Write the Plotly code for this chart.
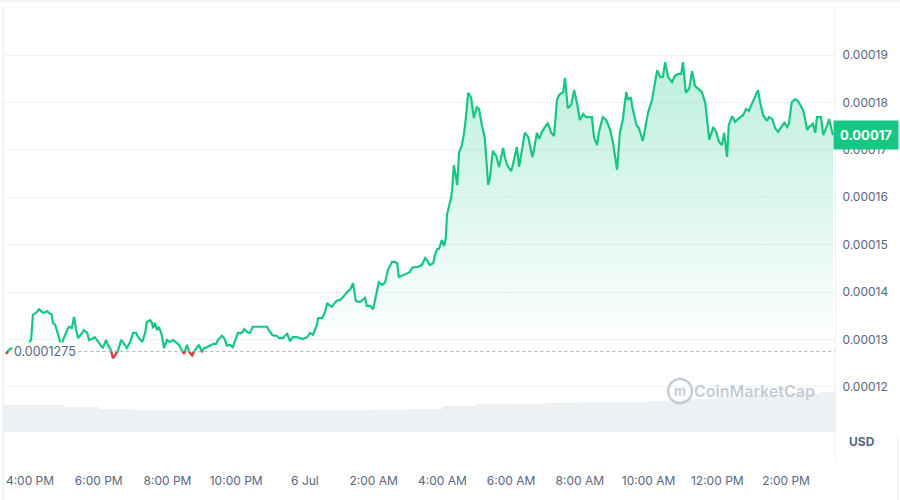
import plotly.graph_objects as go
import pandas as pd
import numpy as np

# ---------------- data ----------------
start = pd.Timestamp("2024-07-05 15:00")

# minutes after 5 Jul 15:00
minute_offsets = [
    18, 25, 34, 43, 51, 57, 62, 65, 72, 76, 81, 84, 90, 93, 98, 100, 104, 107, 111, 114,
    119, 125, 128, 133, 137, 140, 144, 151, 154, 160, 163, 168, 173, 177, 182, 187, 193, 196, 201, 205,
    210, 214, 219, 222, 229, 235, 240, 245, 249, 256, 261, 264, 270, 273, 275, 278, 282, 285, 290, 294,
    299, 304, 310, 317, 320, 325, 329, 334, 338, 343, 346, 352, 355, 360, 364, 369, 376, 380, 385, 388,
    395, 399, 404, 409, 414, 420, 423, 430, 434, 439, 444, 449, 456, 465, 474, 477, 483, 486, 491, 495,
    502, 505, 509, 514, 519, 526, 531, 537, 544, 549, 554, 558, 561, 563, 570, 575, 579, 582, 587, 593,
    598, 601, 607, 615, 619, 624, 629, 636, 641, 645, 648, 654, 659, 666, 669, 675, 680, 685, 692, 697,
    701, 704, 711, 718, 723, 727, 732, 737, 744, 750, 753, 758, 764, 767, 771, 774, 779, 783, 786, 788,
    795, 797, 800, 806, 809, 814, 818, 821, 825, 830, 835, 840, 844, 849, 854, 860, 863, 868, 874, 879,
    886, 889, 893, 900, 903, 910, 914, 919, 924, 930, 937, 940, 945, 949, 954, 959, 964, 970, 975, 980,
    984, 991, 994, 999, 1005, 1010, 1015, 1020, 1026, 1031, 1036, 1041, 1045, 1050, 1053, 1060, 1066, 1073, 1078, 1085,
    1090, 1095, 1101, 1104, 1109, 1112, 1119, 1123, 1130, 1133, 1139, 1146, 1151, 1155, 1160, 1165, 1169, 1174, 1181, 1186,
    1191, 1197, 1200, 1205, 1211, 1216, 1221, 1226, 1233, 1239, 1242, 1246, 1253, 1258, 1263, 1268, 1272, 1277, 1280, 1286,
    1291, 1296, 1305, 1310, 1315, 1321, 1326, 1331, 1335, 1340, 1347, 1350, 1356, 1361, 1366, 1371, 1377, 1382, 1385, 1390,
    1396, 1401, 1408, 1411, 1417, 1420, 1427, 1431, 1434, 1441, 1445, 1452, 1455, 1462,
]

# price in units of 1e-5 USD
price_1e5 = [
    12.70, 12.80, 12.84, 12.82, 12.86, 12.90, 13.00, 13.52, 13.58, 13.64, 13.58, 13.56, 13.60, 13.56, 13.52, 13.35, 13.31, 13.20, 13.03, 12.84,
    13.03, 13.20, 13.27, 13.24, 13.48, 13.24, 13.03, 13.14, 13.20, 13.14, 12.99, 13.01, 13.05, 12.99, 12.89, 12.82, 12.99, 12.89, 12.78, 12.61,
    12.70, 12.78, 12.99, 12.95, 12.82, 12.95, 13.14, 13.14, 13.05, 12.95, 13.14, 13.37, 13.41, 13.35, 13.24, 13.35, 13.20, 13.27, 13.10, 12.82,
    12.99, 12.95, 12.99, 12.93, 12.89, 12.78, 12.70, 12.89, 12.74, 12.67, 12.74, 12.84, 12.89, 12.74, 12.82, 12.84, 12.89, 12.91, 12.91, 12.99,
    13.08, 13.03, 12.87, 12.89, 12.84, 13.03, 13.14, 13.14, 13.22, 13.16, 13.14, 13.27, 13.27, 13.27, 13.27, 13.20, 13.10, 13.08, 13.08, 13.03,
    13.03, 13.08, 13.12, 12.97, 13.05, 13.05, 13.03, 13.01, 13.05, 13.14, 13.10, 13.20, 13.31, 13.45, 13.45, 13.58, 13.77, 13.73, 13.69, 13.79,
    13.83, 13.83, 13.90, 14.02, 14.05, 14.19, 13.81, 13.79, 13.83, 13.88, 13.71, 13.71, 13.64, 14.05, 14.21, 14.15, 14.21, 14.47, 14.64, 14.64,
    14.61, 14.32, 14.36, 14.40, 14.42, 14.51, 14.53, 14.53, 14.57, 14.72, 14.68, 14.57, 14.61, 14.78, 14.91, 14.91, 15.10, 14.97, 15.14, 15.63,
    15.98, 16.15, 16.68, 16.26, 16.93, 17.10, 17.36, 17.67, 18.20, 18.11, 17.67, 17.90, 17.86, 17.52, 17.25, 16.26, 16.41, 16.98, 16.87, 16.64,
    17.04, 16.85, 16.68, 16.55, 16.68, 17.06, 16.64, 17.00, 17.36, 17.27, 16.85, 17.00, 17.36, 17.23, 17.38, 17.48, 17.57, 17.36, 17.29, 18.05,
    18.16, 18.22, 18.52, 17.88, 17.95, 18.26, 17.99, 17.63, 17.76, 17.69, 17.69, 17.69, 17.25, 17.10, 17.36, 17.69, 17.63, 17.42, 17.14, 16.58,
    17.36, 17.63, 18.22, 18.05, 18.11, 17.88, 17.52, 17.46, 17.19, 17.42, 17.78, 18.05, 18.41, 18.68, 18.54, 18.54, 18.85, 18.54, 18.43, 18.56,
    18.60, 18.60, 18.85, 18.20, 18.30, 18.66, 18.35, 18.30, 18.22, 17.99, 17.59, 17.21, 17.48, 17.38, 17.17, 17.10, 17.36, 16.85, 17.52, 17.71,
    17.59, 17.65, 17.73, 17.86, 17.82, 17.99, 18.11, 18.26, 17.99, 17.73, 17.61, 17.69, 17.65, 17.46, 17.38, 17.48, 17.57, 17.48, 17.55, 18.01,
    18.07, 18.03, 17.88, 17.78, 17.42, 17.48, 17.55, 17.36, 17.69, 17.69, 17.31, 17.52, 17.65, 17.31,
]

ref_price = 0.0001275
ref_label = "0.0001275"
last_price_label = "0.00017"

# hourly volume (relative, millions USD) starting 15:00
volume_hours = list(range(0, 26))
volume_musd = [2.7, 2.7, 2.5, 2.3, 2.2, 2.2, 2.2, 2.2, 2.2, 2.2, 2.2, 2.25, 2.3,
               2.6, 2.8, 2.85, 2.9, 3.0, 3.0, 3.1, 3.3, 3.5, 3.7, 3.9, 4.0, 4.0]

tick_times = ["2024-07-05 16:00", "2024-07-05 18:00", "2024-07-05 20:00", "2024-07-05 22:00",
              "2024-07-06 00:00", "2024-07-06 02:00", "2024-07-06 04:00", "2024-07-06 06:00",
              "2024-07-06 08:00", "2024-07-06 10:00", "2024-07-06 12:00", "2024-07-06 14:00"]
tick_labels = ["4:00 PM", "6:00 PM", "8:00 PM", "10:00 PM", "6 Jul", "2:00 AM",
               "4:00 AM", "6:00 AM", "8:00 AM", "10:00 AM", "12:00 PM", "2:00 PM"]
price_ticks = [0.00012, 0.00013, 0.00014, 0.00015, 0.00016, 0.00017, 0.00018, 0.00019]

# ---------------- derived ----------------
times = [start + pd.Timedelta(minutes=m) for m in minute_offsets]
price = [v * 1e-5 for v in price_1e5]

GREEN = "#16c784"
RED = "#ea3943"
TXT = "#58667e"
GRID = "#eff2f5"
WM = "#c5ccd6"

# red segments below reference price
rx, ry = [], []
t = np.array(minute_offsets, float)
p = np.array(price)
for i in range(len(p) - 1):
    a, b = p[i], p[i + 1]
    ta, tb = t[i], t[i + 1]
    if a < ref_price and b < ref_price:
        rx += [ta, tb]; ry += [a, b]
    elif a < ref_price <= b:
        tc = ta + (ref_price - a) / (b - a) * (tb - ta)
        rx += [ta, tc, None]; ry += [a, ref_price, None]
    elif b < ref_price <= a:
        tc = ta + (ref_price - a) / (b - a) * (tb - ta)
        rx += [None, tc, tb]; ry += [None, ref_price, b]
rx_t = [start + pd.Timedelta(minutes=float(v)) if v is not None else None for v in rx]

vol_times = [start + pd.Timedelta(hours=h) for h in volume_hours]

fig = go.Figure()

# volume on the (hidden) primary axis so it sits underneath the price layer
fig.add_trace(go.Scatter(
    x=vol_times, y=volume_musd, yaxis="y", mode="lines", line=dict(width=0, shape="hv"),
    fill="tozeroy", fillcolor="#eef1f4", hoverinfo="skip", showlegend=False))

fig.add_trace(go.Scatter(
    x=times, y=price, yaxis="y2", mode="lines", line=dict(color=GREEN, width=2.2),
    fill="tozeroy",
    fillgradient=dict(type="vertical", start=ref_price, stop=0.000188,
                      colorscale=[[0, "rgba(22,199,132,0)"], [1, "rgba(22,199,132,0.28)"]]),
    showlegend=False))

fig.add_trace(go.Scatter(
    x=rx_t, y=ry, yaxis="y2", mode="lines", line=dict(color=RED, width=2.2), connectgaps=False,
    showlegend=False))

x0 = start + pd.Timedelta(minutes=14.6)
x1 = start + pd.Timedelta(minutes=1465.5)

fig.update_layout(
    width=900, height=500,
    margin=dict(l=4, r=65, t=7, b=68),
    paper_bgcolor="white", plot_bgcolor="white",
    font=dict(family="Inter", color=TXT, size=12),
    showlegend=False,
    xaxis=dict(range=[x0, x1], showgrid=False, zeroline=False, showline=False,
               tickvals=tick_times, ticktext=tick_labels, ticks="",
               tickfont=dict(size=12, color=TXT), ticklabelstandoff=40),
    yaxis=dict(range=[0, 42.5], visible=False, showgrid=False, zeroline=False),
    yaxis2=dict(range=[0.00011051, 0.00020012], overlaying="y", side="right", showgrid=True,
                gridcolor=GRID, gridwidth=1, zeroline=False, showline=True, linecolor=GRID,
                tickvals=price_ticks, tickformat=".5f", ticks="",
                tickfont=dict(size=12, color=TXT), ticklabelstandoff=4),
)

shapes = [
    dict(type="line", xref="paper", yref="paper", x0=0, x1=1.078, y0=1, y1=1,
         line=dict(color=GRID, width=1)),
    dict(type="line", xref="paper", yref="paper", x0=-0.001, x1=-0.001, y0=1, y1=-0.17,
         line=dict(color=GRID, width=1.5)),
    dict(type="line", xref="paper", yref="paper", x0=1, x1=1, y0=0, y1=-0.066,
         line=dict(color=GRID, width=1)),
    dict(type="line", xref="paper", yref="paper", x0=-0.01, x1=1.078, y0=1.014, y1=1.014,
         line=dict(color=GRID, width=1.5)),
    dict(type="line", xref="paper", yref="paper", x0=1.0758, x1=1.0758, y0=-0.01, y1=-0.17,
         line=dict(color=GRID, width=1.5)),
    dict(type="line", xref="paper", yref="y2", x0=0.01, x1=1, y0=ref_price, y1=ref_price,
         line=dict(color="#a6b0c3", width=1, dash="dot")),
    dict(type="circle", xref="paper", yref="paper", x0=0.7991, x1=0.8279, y0=0.0682, y1=0.1247,
         line=dict(color=WM, width=2.5)),
]
fig.update_layout(shapes=shapes)

fig.add_annotation(x=0.0096, xref="paper", y=ref_price, yref="y2", text=ref_label,
                   xanchor="left", yanchor="middle", showarrow=False, bgcolor="white",
                   font=dict(size=12.5, color=TXT), borderpad=1)
fig.add_annotation(x=1, xref="paper", y=price[-1], yref="y2", text="<b>" + last_price_label + "</b>",
                   xanchor="left", yanchor="middle", showarrow=False, bgcolor=GREEN,
                   font=dict(size=13, color="white"), borderpad=6, xshift=-2)
fig.add_annotation(x=1.0325, xref="paper", y=-0.023, yref="paper", text="<b>USD</b>",
                   xanchor="center", yanchor="middle", showarrow=False,
                   font=dict(size=12, color=TXT))
fig.add_annotation(x=0.9783, xref="paper", y=0.0965, yref="paper", text="CoinMarketCap",
                   xanchor="right", yanchor="middle", showarrow=False,
                   font=dict(size=16, color=WM, family="Inter", weight=600))
fig.add_annotation(x=0.8135, xref="paper", y=0.0965, yref="paper", text="<b>m</b>",
                   xanchor="center", yanchor="middle", showarrow=False,
                   font=dict(size=13, color=WM, family="Inter"))

fig.write_html("out.html")
